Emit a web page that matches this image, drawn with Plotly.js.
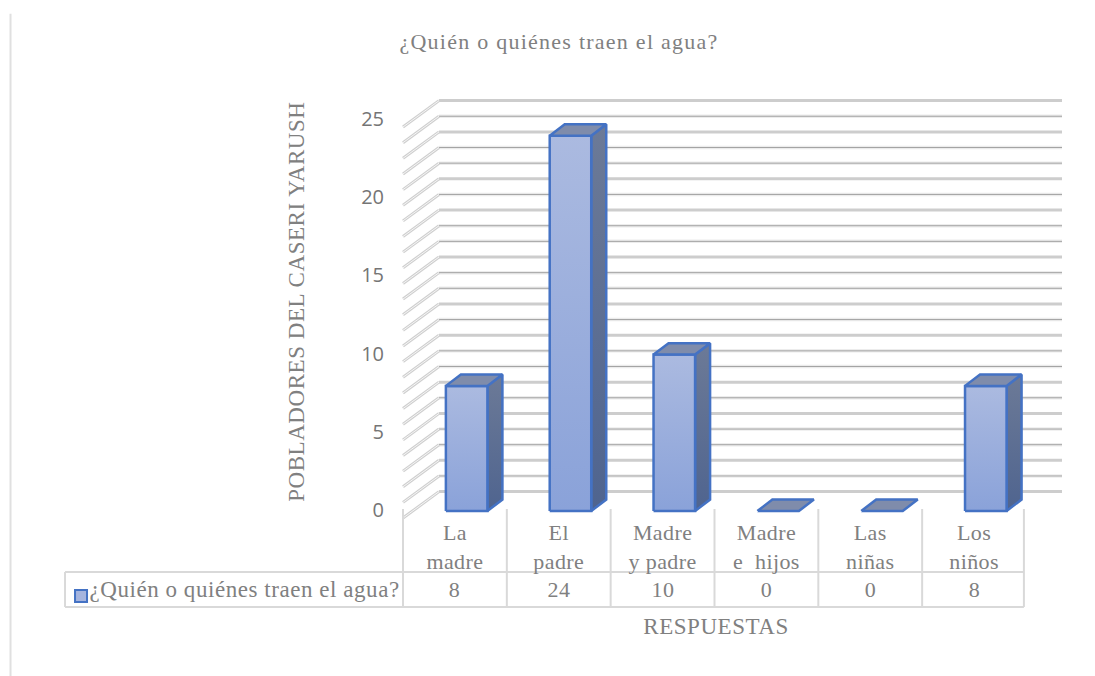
<!DOCTYPE html>
<html>
<head>
<meta charset="utf-8">
<script src="https://cdn.plot.ly/plotly-3.0.1.min.js"></script>
<style>
	html, body { margin: 0; padding: 0; background: #fff; }
	#chart .gtitle { letter-spacing: 1.25px; }
	#chart .annotation-text { letter-spacing: 0.55px; }
	#chart .xtick text { letter-spacing: 0.4px; }
</style>
</head>
<body>
<div id="chart" style="width:1095px;height:676px;"></div>
<script>
const categories = ['La<br>madre', 'El<br>padre', 'Madre<br>y padre', 'Madre<br>e  hijos', 'Las<br>niñas', 'Los<br>niños']
const pobladores = [8, 24, 10, 0, 0, 8]
const yTicks = [0, 5, 10, 15, 20, 25]
const gridThick = [0, 2, 5, 7, 10, 12, 15, 18, 20, 23, 25]
const gridThin = [1, 3, 4, 6, 8, 9, 11, 13, 14, 16, 17, 19, 21, 22, 24]
const seriesName = '¿Quién o quiénes traen el agua?'

// the axes fill the whole page so the fake 3d walls and the table are not clipped
const W = 1095, H = 676
const originX = 403, originY = 511, pxPerCat = 103.83, pxPerUnit = 15.64
const xRange = [-0.5 - originX / pxPerCat, -0.5 + (W - originX) / pxPerCat]
const yRange = [(originY - H) / pxPerUnit, originY / pxPerUnit]

// depth offsets, x in category units, y in value units
const wallDx = 0.347, wallDy = 1.69, wallFrontY = -0.45
const barShiftX = 0.113, barHalf = 0.2, barDx = 0.1445, barDy = 0.73
const left = -0.5, right = 5.5
const serif = '"Liberation Serif", serif'
const grey = '#808080'

let traces = []

function poly(xs, ys, line, extra){
	return Object.assign({
		type: 'scatter', mode: 'lines', x: xs, y: ys,
		line: line, hoverinfo: 'skip', showlegend: false
	}, extra || {})
}

function backLines(values){
	let xs = [], ys = []
	for(let v of values){
		xs.push(left + wallDx, right + wallDx, null)
		ys.push(v + wallFrontY + wallDy, v + wallFrontY + wallDy, null)
	}
	return [xs, ys]
}

// back wall
let thin = backLines(gridThin), thick = backLines(gridThick)
traces.push(poly(thin[0], thin[1], {color: '#ececec', width: 3.5}))
traces.push(poly(thin[0], thin[1], {color: '#a3a3a3', width: 1}))
traces.push(poly(thick[0], thick[1], {color: '#cdcdcd', width: 3}))

// left wall
let diagX = [], diagY = []
for(let v of gridThick.concat(gridThin)){
	diagX.push(left, left + wallDx, null)
	diagY.push(v + wallFrontY, v + wallFrontY + wallDy, null)
}
traces.push(poly(diagX, diagY, {color: '#cfcfcf', width: 3}))
traces.push(poly(diagX, diagY, {color: '#f6f6f6', width: 1}))

// table lines
const tableTop = 0.13, rowTop = -3.9, rowBottom = -6.14, legendLeft = -3.755, tableRight = 5.48
let cellX = [], cellY = []
for(let i = 0; i <= 6; i++){
	let cx = Math.min(left + i, tableRight)
	cellX.push(cx, cx, null)
	cellY.push(tableTop, rowBottom, null)
}
cellX.push(legendLeft, legendLeft, null, legendLeft, tableRight, null, legendLeft, tableRight, null)
cellY.push(rowTop, rowBottom, null, rowTop, rowTop, null, rowBottom, rowBottom, null)
traces.push(poly(cellX, cellY, {color: '#d9d9d9', width: 2}))

// page edge
traces.push(poly([-4.28, -4.28], [31.8, yRange[0]], {color: '#e0e0e0', width: 2}))

// bars
const edge = {color: '#4472c4', width: 2.5}
for(let i = 0; i < pobladores.length; i++){
	let v = pobladores[i]
	let a = i - barHalf + barShiftX, b = i + barHalf + barShiftX
	if(v > 0){
		traces.push(poly([b, b + barDx, b + barDx, b, b], [0, barDy, v + barDy, v, 0], edge, {
			fill: 'toself',
			fillgradient: {type: 'vertical', colorscale: [[0, '#4f648f'], [1, '#6c7a97']]}
		}))
		traces.push(poly([a, b, b, a, a], [0, 0, v, v, 0], edge, {
			fill: 'toself',
			fillgradient: {type: 'vertical', colorscale: [[0, '#8aa2d9'], [1, '#abbae0']]}
		}))
	}
	traces.push(poly([a, b, b + barDx, a + barDx, a], [v, v, v + barDy, v + barDy, v], edge, {
		fill: 'toself', fillcolor: '#7f8cab'
	}))
}

// legend key in the table
traces.push({
	type: 'scatter', mode: 'markers', x: [-3.601], y: [-5.43],
	marker: {symbol: 'square', size: 12, color: '#a5b4de', line: {color: '#4472c4', width: 2}},
	hoverinfo: 'skip', showlegend: false
})

let annotations = pobladores.map(function(v, i){
	return {x: i, y: -5.0, xref: 'x', yref: 'y', text: String(v), showarrow: false,
		font: {family: serif, size: 22, color: grey}}
})
annotations.push({x: -3.46, y: -5.0, xref: 'x', yref: 'y', xanchor: 'left', text: seriesName, showarrow: false,
	font: {family: serif, size: 23, color: grey}})
annotations.push({x: 2.51, y: -7.4, xref: 'x', yref: 'y', text: 'RESPUESTAS', showarrow: false,
	font: {family: serif, size: 23, color: grey}})
annotations.push({x: -1.53, y: 13.36, xref: 'x', yref: 'y', text: 'POBLADORES DEL CASERI YARUSH', textangle: -90, showarrow: false,
	font: {family: serif, size: 23, color: grey}})

Plotly.newPlot('chart', traces, {
	width: W,
	height: H,
	margin: {l: 0, r: 0, t: 0, b: 0},
	paper_bgcolor: '#fff',
	plot_bgcolor: 'rgba(0,0,0,0)',
	showlegend: false,
	title: {text: seriesName, x: 0.5105, xanchor: 'center', y: 0.939, yanchor: 'middle',
		font: {family: serif, size: 22, color: grey}},
	xaxis: {
		range: xRange,
		anchor: 'free',
		position: (H - originY) / H,
		tickmode: 'array',
		tickvals: [0, 1, 2, 3, 4, 5],
		ticktext: categories,
		showgrid: false, zeroline: false, showline: false,
		ticks: '', tickangle: 0, ticklabelstandoff: 6,
		tickfont: {family: serif, size: 22, color: grey}
	},
	yaxis: {
		range: yRange,
		anchor: 'free',
		position: originX / W,
		tickmode: 'array',
		tickvals: yTicks,
		showgrid: false, zeroline: false, showline: false,
		ticks: '', ticklabelstandoff: 19, ticklabelshift: -1,
		tickfont: {family: '"Open Sans", sans-serif', size: 20, color: '#757575'}
	},
	annotations: annotations
}, {displayModeBar: false})
</script>
</body>
</html>
